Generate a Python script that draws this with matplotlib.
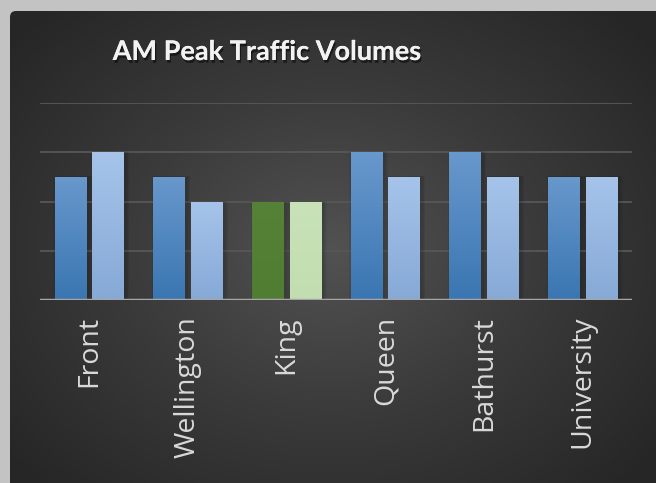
import numpy as np
import matplotlib
matplotlib.use("Agg")
import matplotlib.pyplot as plt
from matplotlib.patches import FancyBboxPatch
import matplotlib.patheffects as pe
from matplotlib.colors import LinearSegmentedColormap

# data (gridline step = 1)
streets = ["Front", "Wellington", "King", "Queen", "Bathurst", "University"]
series_a = [2.5, 2.5, 2.0, 3.0, 3.0, 2.5]
series_b = [3.0, 2.0, 2.0, 2.5, 2.5, 2.5]
highlight = "King"

fig = plt.figure(figsize=(6.56, 4.83), dpi=100)
fig.patch.set_facecolor("#c3c3c3")

# dark panel with radial gradient
bg = fig.add_axes([0, 0, 1, 1], zorder=0)
bg.set_xlim(0, 656)
bg.set_ylim(483, 0)
bg.axis("off")
yy, xx = np.mgrid[0:483, 0:656]
r = np.sqrt(((xx - 330) / 420.0) ** 2 + ((yy - 250) / 330.0) ** 2)
r = np.clip(r, 0, 1)
grad_cmap = LinearSegmentedColormap.from_list("g", ["#525252", "#3a3a3a", "#262626"])
img = bg.imshow(r, cmap=grad_cmap, extent=(0, 656, 483, 0), aspect="auto")
panel = FancyBboxPatch((10, 11), 700, 520, boxstyle="round,pad=0,rounding_size=6",
                       transform=bg.transData, facecolor="none", edgecolor="none")
bg.add_patch(panel)
img.set_clip_path(panel)

ax = fig.add_axes([40 / 656, (483 - 300) / 483, 592 / 656, 197 / 483], zorder=1)
ax.patch.set_alpha(0)
for s in ax.spines.values():
    s.set_visible(False)

x = np.arange(len(streets))
w = 0.32
off = 0.19
cols_a = ["#548235" if s == highlight else "#4a86c3" for s in streets]
cols_b = ["#c5e0b4" if s == highlight else "#9dbde6" for s in streets]
bars_a = ax.bar(x - off, series_a, w, color=cols_a, zorder=3)
bars_b = ax.bar(x + off, series_b, w, color=cols_b, zorder=3)

# soft shadows behind bars
for bars in (bars_a, bars_b):
    for p in bars:
        for k in range(3):
            ax.bar(p.get_x() + p.get_width() / 2 + 0.02, p.get_height() + 0.01 * k,
                   p.get_width() + 0.02 + 0.025 * k, color="black", alpha=0.06, zorder=2)

# vertical gradients
ramps = {
    "#4a86c3": ("#6898cc", "#3a76b2"),
    "#9dbde6": ("#a6c4ea", "#86a9d6"),
    "#548235": ("#558236", "#4f7d31"),
    "#c5e0b4": ("#c9e2b8", "#c2deb0"),
}
for bars, cols in ((bars_a, cols_a), (bars_b, cols_b)):
    for p, c in zip(bars, cols):
        top, bot = ramps[c]
        cm = LinearSegmentedColormap.from_list("b", [bot, top])
        x0, h = p.get_x(), p.get_height()
        im = ax.imshow(np.linspace(0, 1, 100).reshape(-1, 1)[::-1], cmap=cm,
                       extent=(x0, x0 + p.get_width(), 0, h), aspect="auto", zorder=3.5)
        im.set_clip_path(p)

ax.set_xlim(-0.5, len(streets) - 0.5)
ax.set_ylim(0, 4)
ax.set_yticks([1, 2, 3, 4])
ax.yaxis.grid(True, color="#575757", linewidth=1.3, zorder=0)
ax.tick_params(axis="y", left=False, labelleft=False)
ax.axhline(0, color="#a6a6a6", linewidth=2.5, zorder=4)

ax.set_xticks(x)
ax.set_xticklabels(streets, rotation=90, fontsize=20.5, color="#d9d9d9", family="Open Sans")
ax.tick_params(axis="x", bottom=False, pad=8)

fig.text(267 / 656, 1 - 52 / 483, "AM Peak Traffic Volumes", ha="center", va="center",
         fontsize=19.5, fontweight="bold", color="#f2f2f2", family="Lato",
         path_effects=[pe.withSimplePatchShadow(offset=(1, -2), shadow_rgbFace="black", alpha=0.5),
                       pe.Normal()])

fig.savefig("out.png", dpi=100, facecolor=fig.get_facecolor())
